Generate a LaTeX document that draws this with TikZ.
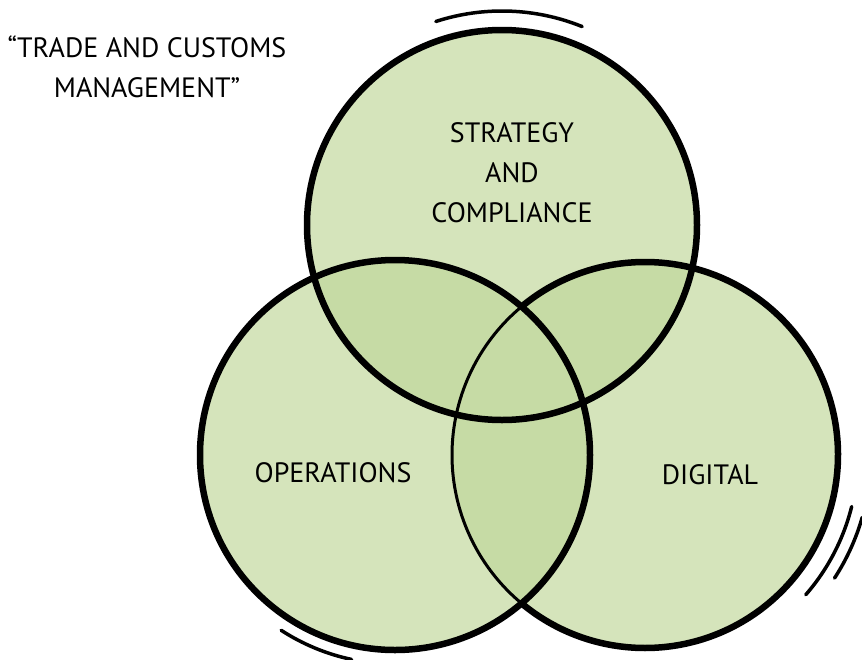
\documentclass[tikz,border=0pt]{standalone}
\usepackage{fontspec}
\setmainfont{PT Sans}
\definecolor{leafgreen}{HTML}{D5E4BB}
\definecolor{leafdark}{HTML}{C6DBA5}
\tikzset{
  ring/.style={draw=black, line width=6.5pt},
  ringthin/.style={draw=black, line width=3pt},
  swoosh/.style={draw=black, line width=3.5pt, line cap=round},
  venntext/.style={font=\fontsize{28}{40}\selectfont, align=center, text=black, inner sep=0pt}
}
\begin{document}
\begin{tikzpicture}[x=1pt,y=-1pt]
        \useasboundingbox (0,0) rectangle (862,659);
        \coordinate (Strategy) at (502,225);
        \coordinate (Operations) at (395,455);
        \coordinate (Digital) at (645,455);

        % circle fills
        \fill[leafgreen] (Strategy) circle (195);
        \fill[leafgreen] (Operations) circle (195);
        \fill[leafgreen] (Digital) circle (193);
        \begin{scope}
          \clip (Strategy) circle (195);
          \fill[leafdark] (Operations) circle (195);
          \fill[leafdark] (Digital) circle (193);
        \end{scope}
        \begin{scope}
          \clip (Operations) circle (195);
          \fill[leafdark] (Digital) circle (193);
        \end{scope}

        % outlines
        \draw[ring] (Strategy) circle (195);
        \draw[ring] (Operations) circle (195);
        \draw[ring] (Digital) ++(-130:193) arc[start angle=-130, end angle=130, radius=193];
        \draw[ringthin] (Digital) ++(130:193) arc[start angle=130, end angle=230, radius=193];

        % sketch strokes
        \draw[swoosh] (Strategy) ++(-108:214) arc[start angle=-108, end angle=-68, radius=214];
        \draw[swoosh] (Operations) ++(123:209) arc[start angle=123, end angle=102, radius=209];
        \draw[swoosh] (Digital) ++(14:213) arc[start angle=14, end angle=41, radius=213];
        \draw[swoosh] (Digital) ++(16:226) arc[start angle=16, end angle=33, radius=226];

        \node[venntext] (Title) at (147,67) {``TRADE AND CUSTOMS\\MANAGEMENT''};
        \node[venntext] (StrategyText) at (512,173) {STRATEGY\\AND\\COMPLIANCE};
        \node[venntext] (OperationsText) at (333,473) {OPERATIONS};
        \node[venntext] (DigitalText) at (710,475) {DIGITAL};
\end{tikzpicture}
\end{document}
